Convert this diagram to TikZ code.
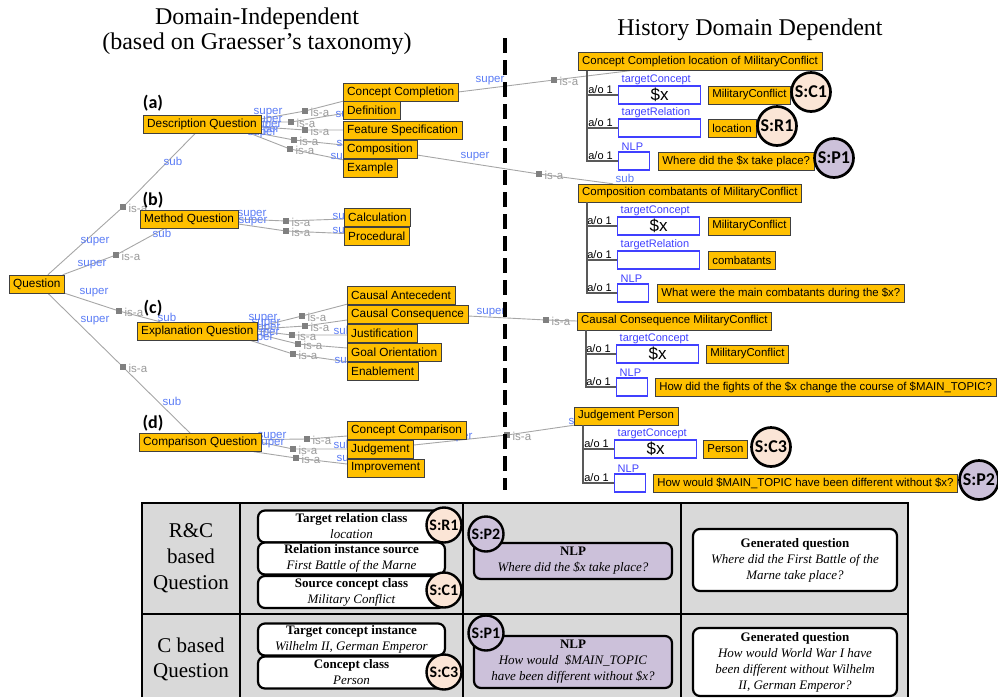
\documentclass[tikz,border=0pt]{standalone}
\usepackage{fontspec}
\setmainfont{Liberation Serif}
\setsansfont{Liberation Sans}
\newfontfamily\calibri{Carlito}
\usepackage{tikz}
\usetikzlibrary{positioning,backgrounds}

\definecolor{gold}{HTML}{FFC000}
\definecolor{slotblue}{HTML}{4040FF}
\definecolor{relblue}{HTML}{5B7CF5}
\definecolor{peach}{HTML}{FBE5D6}
\definecolor{lilac}{HTML}{CCC1DA}
\definecolor{cellgray}{HTML}{D9D9D9}

\tikzset{
  qbox/.style={draw=black!75, fill=gold, anchor=west, inner xsep=4pt, inner ysep=0pt, minimum height=18pt, font=\sffamily\fontsize{11.8}{13}\selectfont},
  rbox/.style={qbox, font=\sffamily\fontsize{11.4}{13}\selectfont},
  slot/.style={draw=slotblue, line width=1.2pt, fill=white, anchor=west, minimum width=82pt, minimum height=18pt, inner sep=0pt, font=\sffamily\fontsize{17}{18}\selectfont},
  nlp/.style={slot, minimum width=31pt},
  slotname/.style={text=slotblue, anchor=south west, inner sep=0.5pt, font=\sffamily\fontsize{11}{12}\selectfont},
  ao/.style={anchor=south east, inner sep=1pt, font=\sffamily\fontsize{11}{12}\selectfont},
  slotline/.style={draw=black!65, line width=1.1pt},
  link/.style={draw=black!35, line width=0.9pt},
  isa/.style={fill=black!50, minimum size=5.5pt, inner sep=0pt},
  isatext/.style={text=black!40, anchor=west, inner sep=0.5pt, font=\sffamily\fontsize{11.5}{12}\selectfont},
  rel/.style={text=relblue, inner sep=0pt, font=\sffamily\fontsize{11.5}{12}\selectfont},
  stamp/.style={circle, draw=black, line width=2.7pt, minimum size=39pt, inner sep=0pt, font=\calibri\bfseries\fontsize{18}{18}\selectfont},
  small stamp/.style={stamp, minimum size=35pt, line width=2.4pt, font=\calibri\bfseries\fontsize{16}{16}\selectfont},
  parttag/.style={font=\calibri\bfseries\fontsize{18}{20}\selectfont},
  tcell/.style={draw=black, line width=2.2pt, rounded corners=7pt, fill=white, align=center, inner sep=0pt, minimum width=187pt, minimum height=32pt, font=\fontsize{13}{16}\selectfont}
}
\newcommand\isanode[2]{\node[isa] (#1) at #2 {}; \node[isatext] (#1t) at ([xshift=2pt,yshift=-1.5pt]#1.east) {is-a};}

\begin{document}
\begin{tikzpicture}[x=1pt,y=-1pt]
\useasboundingbox (0,0) rectangle (998,697);

\node[font=\fontsize{24}{25}\selectfont, align=center] (indep) at (257,31) {Domain-Independent\\(based on Graesser's taxonomy)};
\node[font=\fontsize{24}{25}\selectfont] (dep) at (750,30) {History Domain Dependent};
\draw[line width=3.3pt, dash pattern=on 15pt off 7pt] (505,38) -- (505,490);

\node[qbox] (q) at (9,284) {Question};
\node[qbox] (dq) at (143,124.5) {Description Question};
\node[qbox] (mq) at (140,219) {Method Question};
\node[qbox] (eq) at (137,331) {Explanation Question};
\node[qbox] (cq) at (139,442.5) {Comparison Question};
\node[parttag] (ta) at (153,103) {(a)};
\node[parttag] (tb) at (153,200) {(b)};
\node[parttag] (tc) at (153,308) {(c)};
\node[parttag] (td) at (153,423) {(d)};

\foreach \n/\y/\t in {cc/92/Concept Completion, def/110.5/Definition, fs/130/Feature Specification, comp/149/Composition, ex/168/Example}
  \node[qbox] (\n) at (343,\y) {\t};
\foreach \n/\y/\t in {calc/217/Calculation, proc/236.5/Procedural}
  \node[qbox] (\n) at (344,\y) {\t};
\foreach \n/\y/\t in {ca/295/Causal Antecedent, ccons/314/Causal Consequence, just/333/Justification, go/352/Goal Orientation, en/371/Enablement}
  \node[qbox] (\n) at (347,\y) {\t};
\foreach \n/\y/\t in {conc/430/Concept Comparison, judg/449/Judgement, imp/468/Improvement}
  \node[qbox] (\n) at (347,\y) {\t};

\node[rbox] (ccl) at (578,61.5) {Concept Completion location of MilitaryConflict};
\node[slot] (ccl1) at (618,95) {\$x};
\node[slot] (ccl2) at (618,128) {};
\node[nlp] (ccl3) at (618,161) {};
\node[rbox, right=7pt of ccl1] (ccl1v) {MilitaryConflict};
\node[rbox, right=7pt of ccl2] (ccl2v) {location};
\node[rbox, right=8pt of ccl3] (ccl3v) {Where did the \$x take place?};

\node[rbox] (comb) at (578,193) {Composition combatants of MilitaryConflict};
\node[slot] (comb1) at (617,226) {\$x};
\node[slot] (comb2) at (617,260) {};
\node[nlp] (comb3) at (617,293) {};
\node[rbox, right=8pt of comb1] (comb1v) {MilitaryConflict};
\node[rbox, right=8pt of comb2] (comb2v) {combatants};
\node[rbox, right=8pt of comb3] (comb3v) {What were the main combatants during the \$x?};

\node[rbox] (ccm) at (577,321) {Causal Consequence MilitaryConflict};
\node[slot] (ccm1) at (616,354) {\$x};
\node[nlp] (ccm2) at (616,387) {};
\node[rbox, right=7pt of ccm1] (ccm1v) {MilitaryConflict};
\node[rbox, right=7pt of ccm2] (ccm2v) {How did the fights of the \$x change the course of \$MAIN\_TOPIC?};

\node[rbox] (jp) at (574,416) {Judgement Person};
\node[slot] (jp1) at (614,449) {\$x};
\node[nlp] (jp2) at (614,483) {};
\node[rbox, right=6pt of jp1] (jp1v) {Person};
\node[rbox, right=7pt of jp2] (jp2v) {How would \$MAIN\_TOPIC have been different without \$x?};

\foreach \h/\s/\t in {ccl/ccl1/targetConcept, ccl/ccl2/targetRelation, ccl/ccl3/NLP, comb/comb1/targetConcept, comb/comb2/targetRelation, comb/comb3/NLP, ccm/ccm1/targetConcept, ccm/ccm2/NLP, jp/jp1/targetConcept, jp/jp2/NLP} {
  \draw[slotline] ([xshift=9pt]\h.south west) |- (\s.west);
  \node[ao] (\s a) at ([xshift=-4pt]\s.west) {a/o 1};
  \node[slotname] (\s n) at ([xshift=3pt]\s.north west) {\t};
}

\node[stamp, fill=peach] (gc1) at (811,92) {S:C1};
\node[stamp, fill=peach] (gr1) at (777,126) {S:R1};
\node[stamp, fill=lilac] (gp1) at (834,158) {S:P1};
\node[stamp, fill=peach] (gc3) at (771,447) {S:C3};
\node[stamp, fill=lilac] (gp2) at (979,480) {S:P2};

\begin{scope}[on background layer]
\isanode{sdq}{(123,207)} \isanode{smq}{(116,255)} \isanode{seq}{(119,311)} \isanode{scq}{(123,367)}
\isanode{scc}{(305,111)} \isanode{sdef}{(291,122)} \isanode{sfs}{(305,130)} \isanode{scomp}{(294,140)} \isanode{sex}{(290,149)}
\isanode{scalc}{(286,221)} \isanode{sproc}{(286,231)}
\isanode{sca}{(302,316)} \isanode{sccons}{(305,326)} \isanode{sjust}{(292,335)} \isanode{sgo}{(298,344)} \isanode{sen}{(293,354)}
\isanode{sconc}{(307,439)} \isanode{sjudg}{(293,449)} \isanode{simp}{(296,458)}
\isanode{sccl}{(554,80)} \isanode{scomb}{(539,174)} \isanode{sccm}{(546,320)} \isanode{sjp}{(507,435)}

\draw[link] ([xshift=11pt]q.north) -- (sdq) -- ([xshift=-7pt]dq.south);
\draw[link] ([xshift=-2pt]q.north east) -- (smq) -- ([xshift=-24pt]mq.south);
\draw[link] (q.south east) -- (seq) -- ([xshift=-37pt]eq.north);
\draw[link] ([xshift=11pt]q.south) -- (scq) -- ([xshift=-10pt]cq.north);

\draw[link] ([yshift=5.5pt]dq.east) -- (scc) -- (cc.south west);
\draw[link] ([yshift=2.5pt]dq.east) -- (sdef) -- ([yshift=-3pt]def.west);
\draw[link] ([yshift=-2.5pt]dq.east) -- (sfs) -- (fs.west);
\draw[link] (dq.south east) -- (scomp) -- ([yshift=4pt]comp.west);
\draw[link] ([xshift=-10pt]dq.south east) -- (sex) -- ([yshift=-1pt]ex.north west);

\draw[link] (mq.east) -- (scalc) -- ([yshift=-2pt]calc.west);
\draw[link] ([yshift=-5pt]mq.east) -- (sproc) -- ([yshift=3pt]proc.west);

\draw[link] ([yshift=4pt]eq.east) -- (sca) -- (ca.south west);
\draw[link] ([yshift=2pt]eq.east) -- (sccons) -- ([yshift=-6pt]ccons.west);
\draw[link] (eq.east) -- (sjust) -- ([yshift=-2pt]just.west);
\draw[link] ([yshift=-3pt]eq.east) -- (sgo) -- ([yshift=4pt]go.west);
\draw[link] ([xshift=-8pt]eq.south east) -- (sen) -- (en.north west);

\draw[link] ([yshift=3pt]cq.east) -- (sconc) -- ([yshift=-6pt]conc.west);
\draw[link] (cq.east) -- (sjudg) -- (judg.west);
\draw[link] ([xshift=-8pt]cq.south east) -- (simp) -- ([yshift=4pt]imp.west);

\draw[link] (cc.east) -- (sccl) -- ([xshift=52pt]ccl.south west);
\draw[link] ([yshift=-6pt]comp.east) -- (scomb) -- ([xshift=35pt]comb.north west);
\draw[link] ([yshift=-2pt]ccons.east) -- (sccm) -- (ccm.west);
\draw[link] ([yshift=4pt]judg.east) -- (sjp) -- (jp.south west);

\foreach \x/\y/\t [count=\i] in {95/242/super, 173/161/sub, 92/265/super, 162/233/sub, 94/293/super, 167/317/sub, 95/321/super, 172/401/sub,
  268/113/super, 268/121/super, 267/126/super, 265/131/super, 262/134/super, 345/113/sub, 346/142/sub, 340/155/sub,
  252/215/super, 253/222/super, 342/215/sub, 342/229/sub,
  263/319/super, 266/324/super, 266/329/super, 265/334/super, 259/339/super, 343/330/sub, 344/359/sub,
  272/437/super, 270/444/super, 343/444/sub, 346/457/sub,
  490/81/super, 475/157/super, 491/313/super, 458/438/super, 625/178/sub, 578/420/sub}
  \node[rel] (rel\i) at (\x,\y) {\t};
\end{scope}

\fill[cellgray] (142,503) rectangle (908,697);
\draw[line width=2.6pt] (142,697) -- (142,503) -- (908,503) -- (908,697);
\draw[line width=2pt] (240,503) -- (240,697) (463,503) -- (463,697) (681,503) -- (681,697) (142,614) -- (908,614);

\node[font=\fontsize{21}{26}\selectfont, align=center] (rowrc) at (191,558) {R\&C\\based\\Question};
\node[font=\fontsize{21}{25}\selectfont, align=center] (rowc) at (191,659) {C based\\Question};

\node[tcell] (trc) at (351.5,526.5) {\textbf{Target relation class}\\\textit{location}};
\node[tcell] (ris) at (351.5,558.5) {\textbf{Relation instance source}\\\textit{First Battle of the Marne}};
\node[tcell] (scc2) at (351.5,592) {\textbf{Source concept class}\\\textit{Military Conflict}};
\node[tcell] (tci) at (351.5,639.5) {\textbf{Target concept instance}\\\textit{Wilhelm II, German Emperor}};
\node[tcell] (ccls) at (351.5,672.5) {\textbf{Concept class}\\\textit{Person}};
\node[tcell, fill=lilac, minimum width=198pt, minimum height=36pt] (nlpa) at (573,561) {\textbf{NLP}\\\textit{Where did the \$x take place?}};
\node[tcell, fill=lilac, minimum width=198pt, minimum height=52pt] (nlpb) at (573,662) {\textbf{NLP}\\\textit{How would \ \$MAIN\_TOPIC}\\\textit{have been different without \$x?}};
\node[tcell, minimum width=204pt, minimum height=62pt] (gqa) at (795,560) {\textbf{Generated question}\\\textit{Where did the First Battle of the}\\\textit{Marne take place?}};
\node[tcell, minimum width=204pt, minimum height=68pt] (gqb) at (795,662) {\textbf{Generated question}\\\textit{How would World War I have}\\\textit{been different without Wilhelm}\\\textit{II, German Emperor?}};

\node[small stamp, fill=peach] (tr1) at (444,525) {S:R1};
\node[small stamp, fill=peach] (tc1) at (444,590) {S:C1};
\node[small stamp, fill=peach] (tc3) at (444,672) {S:C3};
\node[small stamp, fill=lilac] (tp2) at (486,534) {S:P2};
\node[small stamp, fill=lilac] (tp1) at (486,633) {S:P1};
\end{tikzpicture}
\end{document}
